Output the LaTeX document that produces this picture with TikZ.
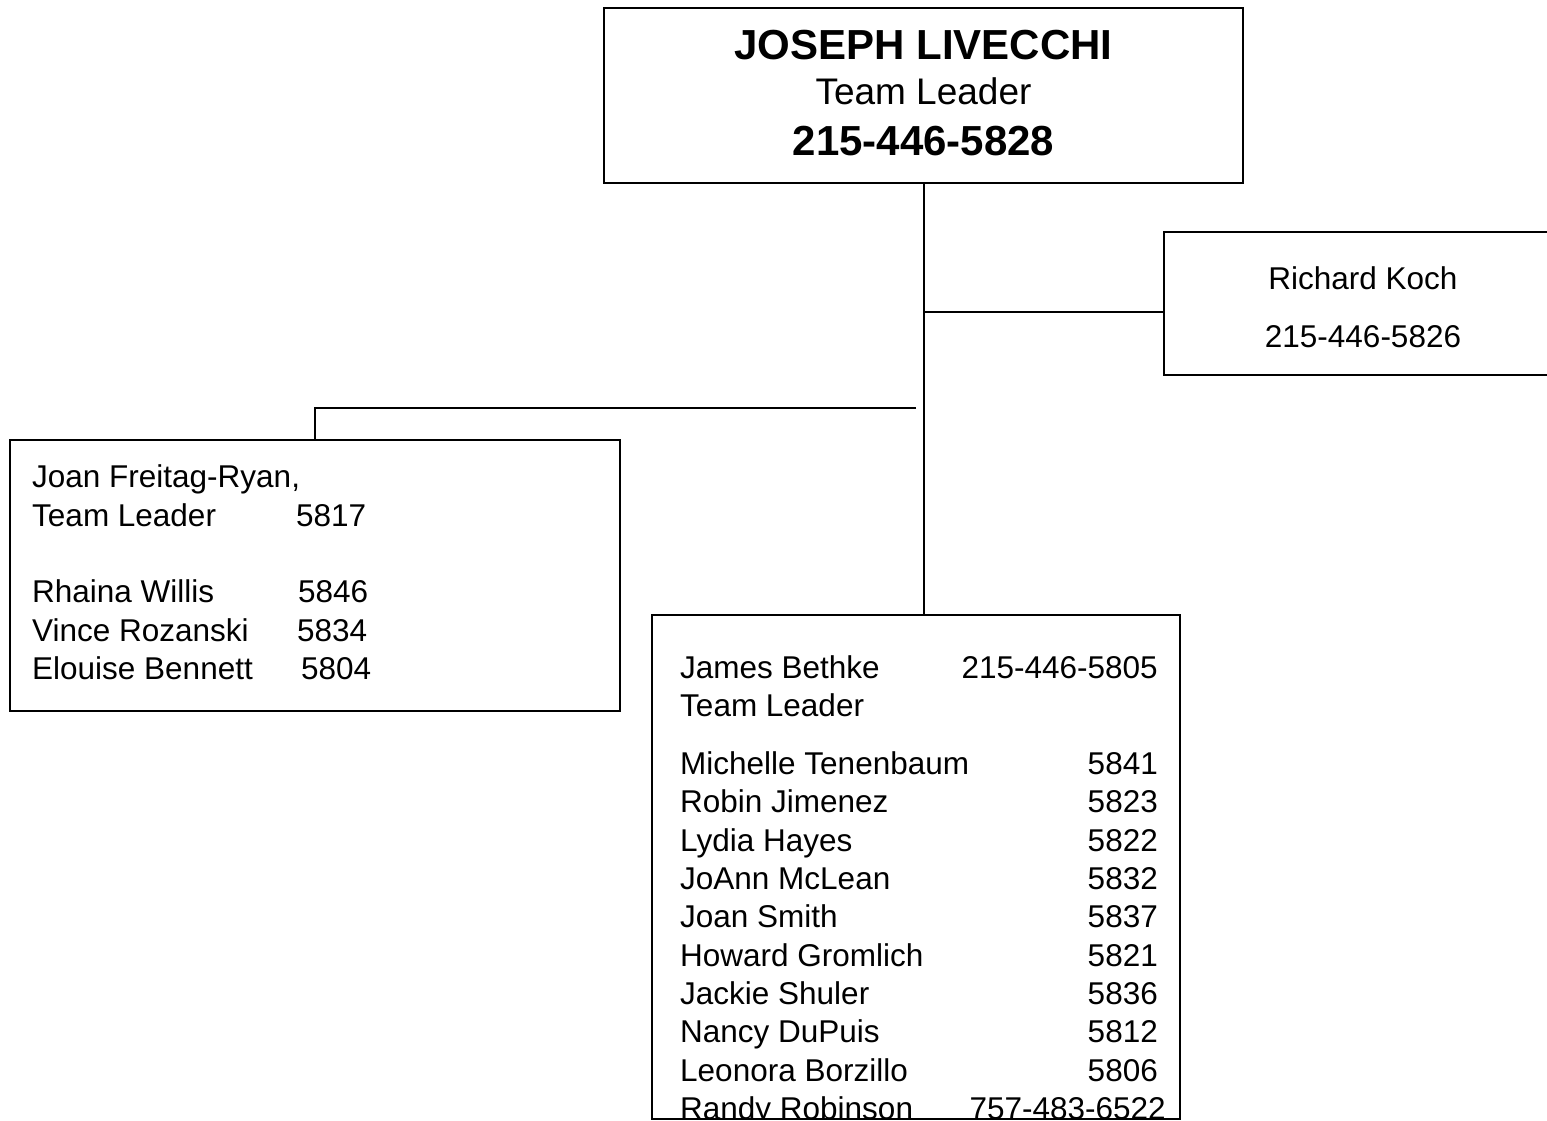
\documentclass[tikz,border=0pt]{standalone}
\usepackage{fontspec}
\setmainfont{Liberation Sans}
\begin{document}
\begin{tikzpicture}[x=1pt,y=-1pt,
  box/.style={draw=black,line width=1.6pt,rectangle,inner sep=0pt},
  conn/.style={draw=black,line width=1.6pt},
  txt/.style={inner sep=0pt,font=\fontsize{31.5}{38}\selectfont},
  bigtxt/.style={inner sep=0pt,font=\fontsize{42}{50}\selectfont\bfseries},
  midtxt/.style={inner sep=0pt,font=\fontsize{37}{44}\selectfont}]
\path[use as bounding box] (0,0) rectangle (1547,1121);
% boxes
\node[box,minimum width=639pt,minimum height=175pt] (top) at (923.5,95.5) {};
\node[box,minimum width=400pt,minimum height=143pt] (rk) at (1364,303.5) {};
\node[box,minimum width=610pt,minimum height=271pt] (left) at (315,575.5) {};
\node[box,minimum width=528pt,minimum height=504pt] (big) at (916,867) {};
% connectors
\coordinate (j1) at (924,312);
\coordinate (lc) at (916,408);
\draw[conn] (top.south -| j1) -- (j1 |- big.north);
\draw[conn] (j1) -- (j1 -| rk.west);
\draw[conn] (lc) -| (left.north);
% top box text
\node[bigtxt,anchor=base] (t1) at (923.5,60) {JOSEPH LIVECCHI};
\node[midtxt,anchor=base] (t2) at (923.5,105) {Team Leader};
\node[bigtxt,anchor=base] (t3) at (923.5,156) {215-446-5828};
% Richard Koch
\node[txt,anchor=base] (r1) at (1363,289) {Richard Koch};
\node[txt,anchor=base] (r2) at (1363,347) {215-446-5826};
% left box
\node[txt,anchor=base west] (l1) at (32,487) {Joan Freitag-Ryan,};
\node[txt,anchor=base west] (l2) at (32,526) {Team Leader};
\node[txt,anchor=base west] (l2n) at (296,526) {5817};
\node[txt,anchor=base west] (l3) at (32,602) {Rhaina Willis};
\node[txt,anchor=base west] (l3n) at (298,602) {5846};
\node[txt,anchor=base west] (l4) at (32,641) {Vince Rozanski};
\node[txt,anchor=base west] (l4n) at (297,641) {5834};
\node[txt,anchor=base west] (l5) at (32,679) {Elouise Bennett};
\node[txt,anchor=base west] (l5n) at (301,679) {5804};
% big box
\begin{scope}
\clip (big.north west) rectangle (big.south east);
\node[txt,anchor=base west] (b0) at (680,678) {James Bethke};
\node[txt,anchor=base east] (b0n) at (1158,678) {215-446-5805};
\node[txt,anchor=base west] (b0b) at (680,716) {Team Leader};
\foreach \nm/\nu/\yy [count=\i] in {Michelle Tenenbaum/5841/774, Robin Jimenez/5823/812, Lydia Hayes/5822/851, JoAnn McLean/5832/889, Joan Smith/5837/927, Howard Gromlich/5821/966, Jackie Shuler/5836/1004, Nancy DuPuis/5812/1042, Leonora Borzillo/5806/1081}{
  \node[txt,anchor=base west] (bn\i) at (680,\yy) {\nm};
  \node[txt,anchor=base east] (bu\i) at (1158,\yy) {\nu};
}
\node[txt,anchor=base west] (bn10) at (680,1119) {Randy Robinson};
\node[txt,anchor=base east] (bu10) at (1166,1119) {757-483-6522};
\end{scope}
\end{tikzpicture}
\end{document}
